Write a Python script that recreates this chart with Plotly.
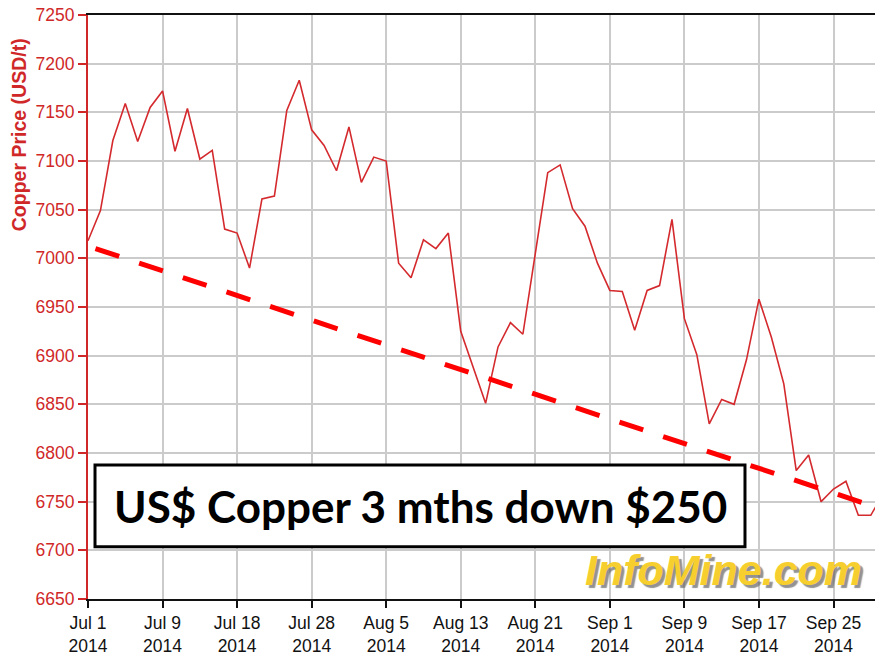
import plotly.graph_objects as go

# Copper price (USD/t), one value per trading day from Jul 1 2014
copper_price = [
    7018, 7049, 7121, 7159, 7120, 7155, 7172, 7110, 7154, 7102,
    7111, 7030, 7026, 6990, 7061, 7064, 7152, 7183, 7132, 7116,
    7090, 7135, 7078, 7104, 7100, 6995, 6980, 7019, 7010, 7026,
    6925, 6888, 6851, 6909, 6934, 6922, 7003, 7088, 7096, 7051,
    7033, 6995, 6967, 6966, 6926, 6967, 6972, 7040, 6938, 6901,
    6830, 6855, 6850, 6896, 6958, 6919, 6871, 6782, 6798, 6750,
    6763, 6771, 6736, 6736, 6758,
]
day_index = list(range(len(copper_price)))

tick_index = [0, 6, 12, 18, 24, 30, 36, 42, 48, 54, 60]
tick_labels = ["Jul 1", "Jul 9", "Jul 18", "Jul 28", "Aug 5", "Aug 13",
               "Aug 21", "Sep 1", "Sep 9", "Sep 17", "Sep 25"]
tick_year = "2014"

trend_index = [0.6, 64]
trend_price = [7010, 6742]

y_ticks = list(range(6650, 7251, 50))

headline = "US$ Copper 3 mths down $250"
axis_title = "Copper Price (USD/t)"
watermark = "InfoMine.com"

RED = "#D02828"

fig = go.Figure()
fig.add_trace(go.Scatter(
    x=day_index, y=copper_price, mode="lines",
    line=dict(color="#D42A2E", width=1.6), showlegend=False, hoverinfo="skip"))
fig.add_trace(go.Scatter(
    x=trend_index, y=trend_price, mode="lines",
    line=dict(color="#FF0000", width=5, dash="25px,21px"),
    showlegend=False, hoverinfo="skip"))

fig.update_layout(
    width=875, height=659,
    margin=dict(l=88, r=0, t=15, b=60, autoexpand=False),
    paper_bgcolor="white", plot_bgcolor="white",
    font=dict(family="Liberation Sans, Arial, sans-serif"),
    xaxis=dict(
        range=[0, 63.34], tickmode="array", tickvals=tick_index,
        ticktext=[f"{t}<br>{tick_year}" for t in tick_labels],
        tickfont=dict(size=17.5, color="#111111"),
        showgrid=True, gridcolor="#cbcbcb", gridwidth=1.5,
        showline=True, linecolor="#111111", linewidth=2, mirror=True,
        ticks="outside", ticklen=7, tickwidth=1.5, tickcolor="#111111",
        zeroline=False, fixedrange=True, automargin=False,
    ),
    yaxis=dict(
        range=[6650, 7250], tickmode="array", tickvals=y_ticks,
        tickfont=dict(size=17.5, color=RED),
        showgrid=True, gridcolor="#cbcbcb", gridwidth=1.5,
        showline=True, linecolor=RED, linewidth=2,
        ticks="outside", ticklen=8, tickwidth=1.5, tickcolor=RED,
        zeroline=False, fixedrange=True, automargin=False,
    ),
    shapes=[dict(
        type="rect", xref="paper", yref="paper",
        x0=0.0089, x1=0.8348, y0=0.0896, y1=0.2295,
        line=dict(color="black", width=3), fillcolor="white", layer="above")],
    annotations=[
        dict(text=headline, xref="paper", yref="paper", x=0.4219, y=0.1596,
             xanchor="center", yanchor="middle", showarrow=False,
             font=dict(family="Lato, Carlito, sans-serif", size=44,
                       color="black", weight="bold")),
        dict(text=axis_title, xref="paper", yref="paper", x=-0.0883, y=0.795,
             xanchor="center", yanchor="middle", showarrow=False, textangle=-90,
             font=dict(size=19.5, color=RED, weight="bold")),
        dict(text=watermark, xref="paper", yref="paper", x=0.808, y=0.0497,
             xanchor="center", yanchor="middle", showarrow=False,
             font=dict(size=43, color="#F6CE2E", weight="bold",
                       style="italic",
                       shadow="3px 3px 1px rgba(100,100,100,0.7)")),
    ],
)

fig.write_html("out.html",
               config={"displayModeBar": False},
               post_script="document.body.style.margin='0px';"
                           "document.body.style.overflow='hidden';")
